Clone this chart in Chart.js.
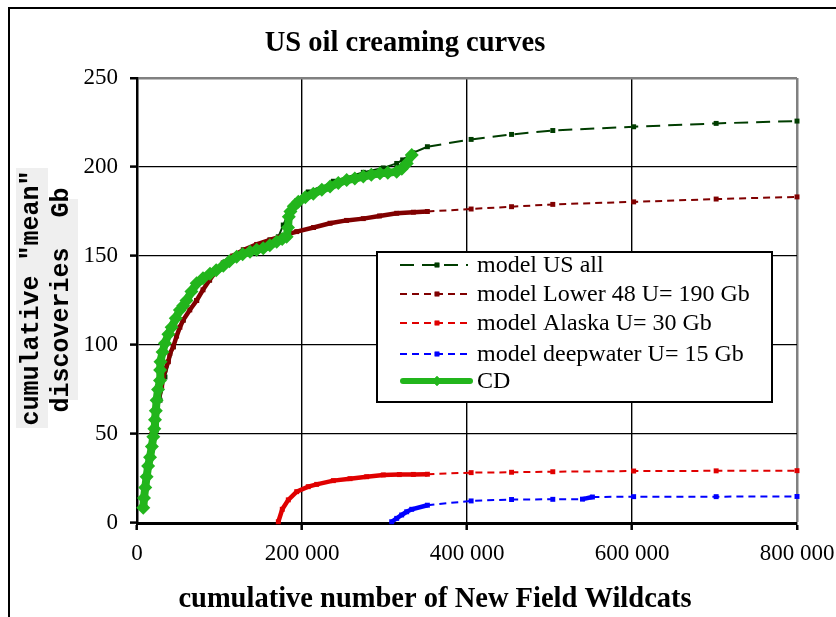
<!DOCTYPE html>
<html><head><meta charset="utf-8">
<script src="https://cdn.jsdelivr.net/npm/chart.js@4/dist/chart.umd.min.js"></script>
<style>html,body{margin:0;padding:0;background:#fff;overflow:hidden}canvas{display:block}</style>
</head><body><canvas id="c" width="836" height="617"></canvas>
<script>
const chartTitle = "US oil creaming curves";
const xAxisTitle = "cumulative number of New Field Wildcats";
const yAxisTitle = ['cumulative "mean"', 'discoveries  Gb'];
const xTickValues = [0, 200000, 400000, 600000, 800000];
const xTickLabels = ['0', '200 000', '400 000', '600 000', '800 000'];
const yTickValues = [0, 50, 100, 150, 200, 250];
const yTickLabels = ['0', '50', '100', '150', '200', '250'];
const seriesNames = ['model US all', 'model Lower 48 U= 190 Gb', 'model Alaska U= 30 Gb', 'model deepwater U= 15 Gb', 'CD'];

const usAllX = [10000, 21800, 27900, 33900, 44000, 56000, 72300, 88000, 104600, 128900, 161200, 171300, 177300, 183400, 193600, 207600, 238000, 274300, 298500, 314800, 322000, 334500, 352000, 405000, 454000, 504000, 602000, 702000, 800000];
const usAllY = [20, 62.5, 69, 82, 99, 114, 125, 136.5, 146, 153.4, 159, 160.8, 167.4, 174, 181, 186, 192, 197, 199.5, 202, 204, 208, 211.4, 215.5, 218.3, 220.5, 222.6, 224.5, 225.8];

const lower48X = [10000, 14000, 18000, 21800, 25800, 29900, 31900, 33900, 38000, 40000, 44000, 48000, 52000, 56000, 64000, 72300, 80000, 88000, 96000, 104600, 116000, 128900, 145000, 161200, 177000, 193600, 214000, 234000, 254000, 274300, 294000, 314800, 335000, 352000, 405000, 454000, 504000, 602000, 702000, 800000];
const lower48Y = [20, 35, 50, 62.5, 69, 76.6, 82, 86, 90.6, 95.3, 99, 105, 110, 114, 119.7, 125, 131, 136.5, 141.5, 146, 150, 153.4, 156.5, 159, 161.5, 163.7, 166, 168.4, 170, 171, 172.5, 174, 174.6, 175, 176.4, 177.7, 179, 180.4, 182, 183.2];

const alaskaX = [171300, 176100, 183400, 193600, 207600, 217800, 238000, 258200, 278400, 298500, 318000, 335000, 352000, 405000, 454000, 504000, 602000, 702000, 800000];
const alaskaY = [0.7, 7.7, 13, 17.6, 20.4, 21.7, 23.8, 24.9, 26, 27, 27.2, 27.3, 27.4, 28.3, 28.5, 28.8, 29.2, 29.3, 29.4];

const deepX = [308700, 314800, 320800, 326900, 333000, 352000, 405000, 454000, 504000, 540000, 552000, 602000, 702000, 800000];
const deepY = [0.7, 2.6, 4.5, 6.3, 7.7, 10, 12.4, 13.2, 13.3, 13.4, 14.6, 14.8, 14.8, 14.9];

const cdX = [7600, 8500, 10000, 11700, 13500, 15800, 18000, 19800, 21000, 21800, 22800, 23800, 25500, 27900, 28000, 28500, 31000, 33900, 38000, 42000, 47000, 52000, 56000, 60000, 66000, 72300, 80000, 88500, 96000, 104600, 112000, 120800, 128000, 137000, 145000, 153000, 161000, 169300, 176000, 181400, 183000, 184000, 186000, 190000, 195500, 204000, 213700, 224000, 234000, 244000, 254200, 264000, 274300, 284000, 294500, 304000, 314800, 321000, 327000, 333000];
const cdY = [8.5, 14, 20, 26, 32, 37, 43, 48.5, 53, 58, 63, 69, 75, 80, 86, 90.6, 96, 101, 106, 110, 115, 119.7, 122, 125, 130, 134.7, 137.5, 140, 142, 144.5, 147, 149.6, 151, 152.4, 153.5, 154.3, 156, 158, 159.5, 160.8, 166, 172, 175, 178, 180.5, 183, 185, 187.2, 189, 191, 192.7, 193.5, 194.6, 195.6, 196.5, 196.7, 197.4, 199, 202, 206.7];

const colUS = '#003d00', colL48 = '#800000', colAK = '#e00000', colDW = '#0000ff', colCD = '#22b51c';

function pts(xs, ys) { return xs.map((x, i) => ({ x: x, y: ys[i] })); }
function denseSeg(dash, thin, thick) {
  return {
    borderDash: c => (Math.hypot(c.p1.x - c.p0.x, c.p1.y - c.p0.y) < 22 ? [] : dash),
    borderWidth: c => (Math.hypot(c.p1.x - c.p0.x, c.p1.y - c.p0.y) < 22 ? thick : thin)
  };
}

const datasets = [
  { label: seriesNames[4], data: pts(cdX, cdY), borderColor: colCD, backgroundColor: colCD, borderWidth: 8, pointStyle: 'rectRot', pointRadius: 7, pointBorderWidth: 0, order: 0, clip: 10 },
  { label: seriesNames[3], data: pts(deepX, deepY), borderColor: colDW, backgroundColor: colDW, borderWidth: 2, borderDash: [7, 5], segment: denseSeg([7, 5], 2, 4.5), pointStyle: 'rect', pointRadius: 3.5, pointBorderWidth: 0, order: 1, clip: 10 },
  { label: seriesNames[2], data: pts(alaskaX, alaskaY), borderColor: colAK, backgroundColor: colAK, borderWidth: 2, borderDash: [7, 5], segment: denseSeg([7, 5], 2, 4.5), pointStyle: 'rect', pointRadius: 3.5, pointBorderWidth: 0, order: 2, clip: 10 },
  { label: seriesNames[1], data: pts(lower48X, lower48Y), borderColor: colL48, backgroundColor: colL48, borderWidth: 2, borderDash: [7, 5], segment: denseSeg([7, 5], 2, 4.5), pointStyle: 'rect', pointRadius: 3.5, pointBorderWidth: 0, order: 3, clip: 10 },
  { label: seriesNames[0], data: pts(usAllX, usAllY), borderColor: colUS, backgroundColor: colUS, borderWidth: 2, borderDash: [14, 8], segment: denseSeg([14, 8], 2, 2), pointStyle: 'rect', pointRadius: 3.5, pointBorderWidth: 0, order: 4, clip: 10 }
];

const legendOrder = [seriesNames[0], seriesNames[1], seriesNames[2], seriesNames[3], seriesNames[4]];

const overlay = {
  id: 'overlay',
  beforeDraw(chart) {
    const ctx = chart.ctx;
    ctx.save();
    ctx.fillStyle = '#fff';
    ctx.fillRect(0, 0, chart.width, chart.height);
    ctx.fillStyle = '#000';
    ctx.fillRect(8, 7, 900, 2);
    ctx.fillRect(8, 7, 2, 700);
    ctx.restore();
  },
  afterDraw(chart) {
    const ctx = chart.ctx;
    ctx.save();
    ctx.fillStyle = '#000';
    ctx.textAlign = 'center';
    ctx.textBaseline = 'middle';
    ctx.font = 'bold 28.5px "Liberation Serif"';
    ctx.fillText(chartTitle, 405, 44);
    ctx.fillText(xAxisTitle, 435, 600);

    // y axis title (rotated, grey backgrounds)
    ctx.save();
    ctx.fillStyle = '#efefef';
    ctx.fillRect(16, 168, 32, 260);
    ctx.fillRect(47, 199, 31, 201);
    ctx.fillStyle = '#000';
    ctx.font = 'bold 25px "Liberation Mono"';
    ctx.translate(32, 298);
    ctx.rotate(-Math.PI / 2);
    ctx.fillText(yAxisTitle[0], 0, 0);
    ctx.restore();
    ctx.save();
    ctx.fillStyle = '#000';
    ctx.font = 'bold 25px "Liberation Mono"';
    ctx.translate(62, 300);
    ctx.rotate(-Math.PI / 2);
    ctx.fillText(yAxisTitle[1], 0, 0);
    ctx.restore();

    // legend
    const lx = 377, ly = 252, lw = 395, lh = 150;
    ctx.fillStyle = '#fff';
    ctx.fillRect(lx, ly, lw, lh);
    ctx.lineWidth = 2;
    ctx.strokeStyle = '#000';
    ctx.strokeRect(lx, ly, lw, lh);
    const rows = [265, 294, 323, 354, 381];
    ctx.font = '24px "Liberation Serif"';
    ctx.textAlign = 'left';
    legendOrder.forEach((name, i) => {
      const ds = chart.data.datasets.find(d => d.label === name);
      const y = rows[i];
      ctx.save();
      ctx.strokeStyle = ds.borderColor;
      ctx.fillStyle = ds.borderColor;
      ctx.lineWidth = name === 'CD' ? 6 : ds.borderWidth;
      ctx.setLineDash(ds.borderDash || []);
      ctx.lineCap = name === 'CD' ? 'round' : 'butt';
      ctx.beginPath();
      ctx.moveTo(name === 'CD' ? 403 : 400, y);
      ctx.lineTo(name === 'CD' ? 470 : 468, y);
      ctx.stroke();
      ctx.setLineDash([]);
      Chart.helpers.drawPoint(ctx, { pointStyle: ds.pointStyle, radius: name === 'CD' ? 5 : 3.3, borderWidth: 0 }, 437, y);
      ctx.fill();
      ctx.restore();
      ctx.fillStyle = '#000';
      ctx.fillText(name, 477, y + 1);
    });
    ctx.restore();
  }
};

new Chart(document.getElementById('c'), {
  type: 'line',
  data: { datasets: datasets },
  plugins: [overlay],
  options: {
    responsive: false,
    animation: false,
    events: [],
    layout: { padding: { left: 0, top: 78, right: 39, bottom: 0 } },
    plugins: { legend: { display: false }, tooltip: { enabled: false }, title: { display: false } },
    scales: {
      x: {
        type: 'linear', min: 0, max: 800000,
        afterBuildTicks: s => { s.ticks = xTickValues.map(v => ({ value: v })); },
        afterFit: s => { s.height = 94; s.paddingLeft = 0; s.paddingRight = 0; },
        ticks: { color: '#000', font: { family: 'Liberation Serif', size: 23 }, padding: 10, maxRotation: 0, autoSkip: false,
          callback: (v, i) => xTickLabels[i] },
        grid: {
          color: c => (c.tick && c.tick.value === 800000 ? '#808080' : (c.tick && c.tick.value === 0 ? 'rgba(0,0,0,0)' : '#000')),
          lineWidth: c => (c.tick && c.tick.value === 800000 ? 2.5 : 1.4),
          tickColor: '#000', tickWidth: 2.5, tickLength: 7, drawTicks: true
        },
        border: { color: '#000', width: 3 }
      },
      y: {
        type: 'linear', min: 0, max: 250,
        afterBuildTicks: s => { s.ticks = yTickValues.map(v => ({ value: v })); },
        afterFit: s => { s.width = 137; s.paddingTop = 0; s.paddingBottom = 0; },
        ticks: { color: '#000', font: { family: 'Liberation Serif', size: 23 }, padding: 12,
          callback: (v, i) => yTickLabels[i] },
        grid: {
          color: c => (c.tick && c.tick.value === 250 ? '#808080' : (c.tick && c.tick.value === 0 ? 'rgba(0,0,0,0)' : '#000')),
          lineWidth: c => (c.tick && c.tick.value === 250 ? 2.5 : 1.2),
          tickColor: '#000', tickWidth: 2.5, tickLength: 7, drawTicks: true
        },
        border: { color: '#000', width: 2.5 }
      }
    }
  }
});
</script>
</body></html>
